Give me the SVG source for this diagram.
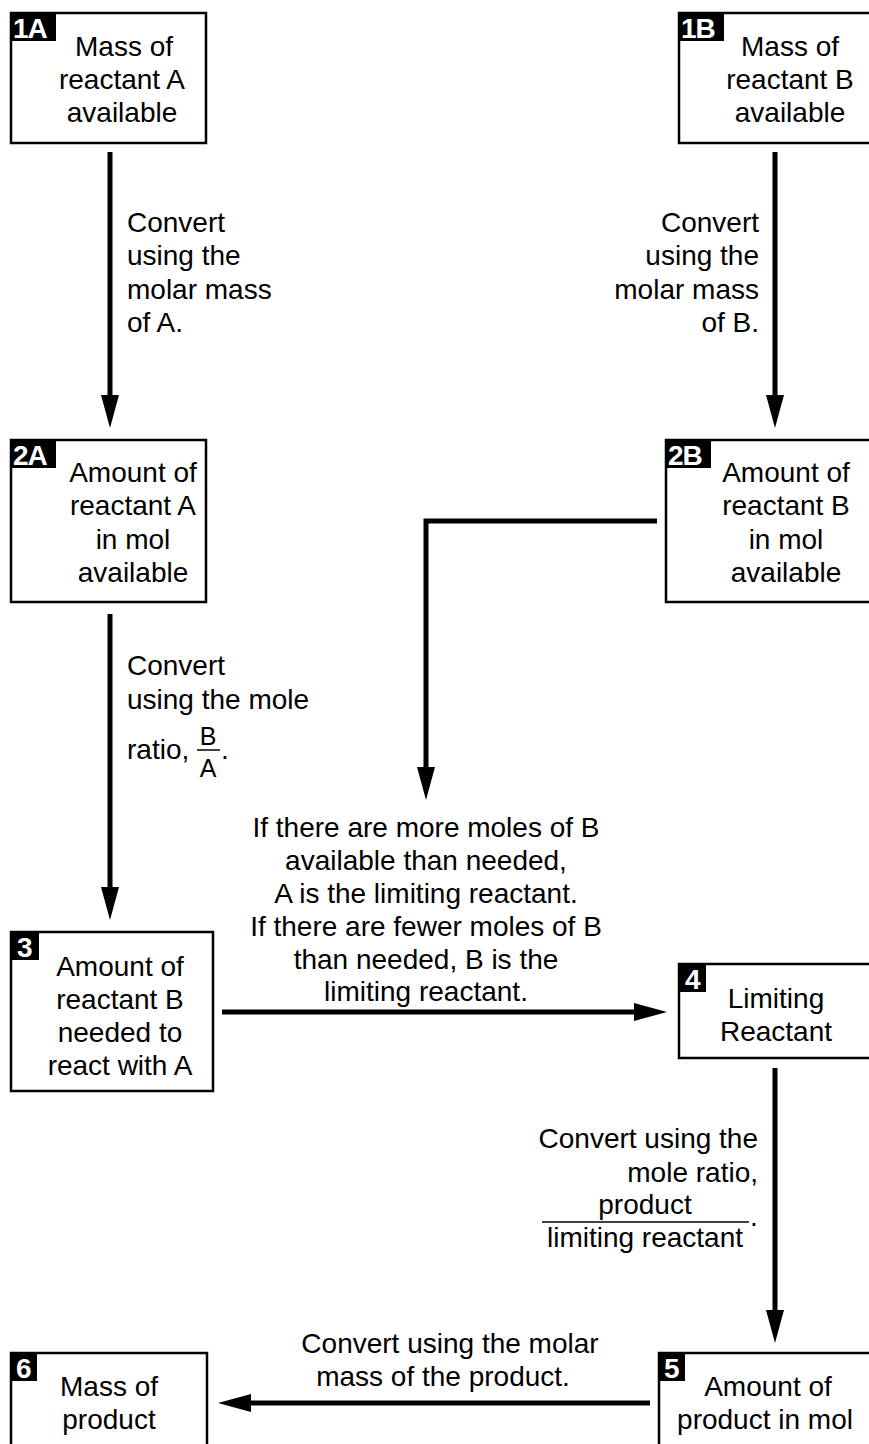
<svg xmlns="http://www.w3.org/2000/svg" width="869" height="1444" viewBox="0 0 869 1444">
<defs>
<marker id="ah" markerUnits="userSpaceOnUse" markerWidth="34" markerHeight="20" refX="1" refY="10" orient="auto">
<path d="M0,1 L33,10 L0,19 z" fill="#000"/>
</marker>
<style>
.box{fill:#fff;stroke:#000;stroke-width:2.5}
.tag{fill:#000}
.tagt{font-family:"Liberation Sans","Open Sans",sans-serif;font-weight:bold;font-size:28px;fill:#fff;letter-spacing:-1px}
.t{font-family:"Liberation Sans","Open Sans",sans-serif;font-size:28px;fill:#000}
.c{text-anchor:middle}
.r{text-anchor:end}
.s{font-size:25px}
.ln{stroke:#000;stroke-width:5;fill:none}
.bar{stroke:#000;stroke-width:1.5}
</style>
</defs>
<rect width="869" height="1444" fill="#fff"/>

<g id="connectors">
<line class="ln" x1="110" y1="152" x2="110" y2="396" marker-end="url(#ah)"/>
<line class="ln" x1="775" y1="152" x2="775" y2="396" marker-end="url(#ah)"/>
<line class="ln" x1="110" y1="614" x2="110" y2="888" marker-end="url(#ah)"/>
<polyline class="ln" points="657,521 426,521 426,768" marker-end="url(#ah)"/>
<line class="ln" x1="222" y1="1012" x2="635" y2="1012" marker-end="url(#ah)"/>
<line class="ln" x1="775" y1="1068" x2="775" y2="1311" marker-end="url(#ah)"/>
<line class="ln" x1="650" y1="1403" x2="250" y2="1403" marker-end="url(#ah)"/>
<g class="t">
<text x="127" y="232">Convert</text>
<text x="127" y="265">using the</text>
<text x="127" y="299">molar mass</text>
<text x="127" y="332">of A.</text>
<text class="r" x="759" y="232">Convert</text>
<text class="r" x="759" y="265">using the</text>
<text class="r" x="759" y="299">molar mass</text>
<text class="r" x="759" y="332">of B.</text>
<text x="127" y="675">Convert</text>
<text x="127" y="709">using the mole</text>
<text x="127" y="759">ratio,</text>
<text class="c s" x="208" y="745">B</text>
<line class="bar" x1="197" y1="750" x2="220" y2="750"/>
<text class="c s" x="208" y="777">A</text>
<text x="221" y="759">.</text>
<text class="c" x="426" y="837">If there are more moles of B</text>
<text class="c" x="426" y="870">available than needed,</text>
<text class="c" x="426" y="903">A is the limiting reactant.</text>
<text class="c" x="426" y="936">If there are fewer moles of B</text>
<text class="c" x="426" y="969">than needed, B is the</text>
<text class="c" x="426" y="1001">limiting reactant.</text>
<text class="r" x="758" y="1148">Convert using the</text>
<text class="r" x="758" y="1182">mole ratio,</text>
<text class="c" x="645" y="1214">product</text>
<line class="bar" x1="542" y1="1222" x2="749" y2="1222"/>
<text class="c" x="645" y="1247">limiting reactant</text>
<text x="750" y="1226">.</text>
<text class="c" x="450" y="1353">Convert using the molar</text>
<text class="c" x="443" y="1386">mass of the product.</text>
</g>
</g>

<g id="n1A">
<rect class="box" x="11" y="13" width="195" height="130"/>
<rect class="tag" x="11" y="13" width="45" height="28"/>
<text class="tagt" x="13" y="38">1A</text>
<text class="t c" x="124" y="56">Mass of</text>
<text class="t c" x="122" y="89">reactant A</text>
<text class="t c" x="122" y="122">available</text>
</g>

<g id="n1B">
<rect class="box" x="679" y="13" width="192" height="130"/>
<rect class="tag" x="679" y="13" width="45" height="28"/>
<text class="tagt" x="681" y="38">1B</text>
<text class="t c" x="790" y="56">Mass of</text>
<text class="t c" x="790" y="89">reactant B</text>
<text class="t c" x="790" y="122">available</text>
</g>

<g id="n2A">
<rect class="box" x="11" y="440" width="195" height="162"/>
<rect class="tag" x="11" y="440" width="45" height="28"/>
<text class="tagt" x="13" y="465">2A</text>
<text class="t c" x="133" y="482">Amount of</text>
<text class="t c" x="133" y="515">reactant A</text>
<text class="t c" x="133" y="549">in mol</text>
<text class="t c" x="133" y="582">available</text>
</g>

<g id="n2B">
<rect class="box" x="666" y="440" width="205" height="162"/>
<rect class="tag" x="666" y="440" width="45" height="28"/>
<text class="tagt" x="668" y="465">2B</text>
<text class="t c" x="786" y="482">Amount of</text>
<text class="t c" x="786" y="515">reactant B</text>
<text class="t c" x="786" y="549">in mol</text>
<text class="t c" x="786" y="582">available</text>
</g>

<g id="n3">
<rect class="box" x="11" y="932" width="202" height="159"/>
<rect class="tag" x="11" y="932" width="28" height="28"/>
<text class="tagt" x="17" y="957">3</text>
<text class="t c" x="120" y="976">Amount of</text>
<text class="t c" x="120" y="1009">reactant B</text>
<text class="t c" x="120" y="1042">needed to</text>
<text class="t c" x="120" y="1075">react with A</text>
</g>

<g id="n4">
<rect class="box" x="679" y="964" width="192" height="94"/>
<rect class="tag" x="679" y="964" width="27" height="28"/>
<text class="tagt" x="685" y="989">4</text>
<text class="t c" x="776" y="1008">Limiting</text>
<text class="t c" x="776" y="1041">Reactant</text>
</g>

<g id="n5">
<rect class="box" x="659" y="1353" width="212" height="95"/>
<rect class="tag" x="659" y="1353" width="26" height="28"/>
<text class="tagt" x="664" y="1378">5</text>
<text class="t c" x="768" y="1396">Amount of</text>
<text class="t c" x="765" y="1429">product in mol</text>
</g>

<g id="n6">
<rect class="box" x="11" y="1353" width="196" height="95"/>
<rect class="tag" x="11" y="1353" width="26" height="28"/>
<text class="tagt" x="16" y="1378">6</text>
<text class="t c" x="109" y="1396">Mass of</text>
<text class="t c" x="109" y="1429">product</text>
</g>
</svg>
